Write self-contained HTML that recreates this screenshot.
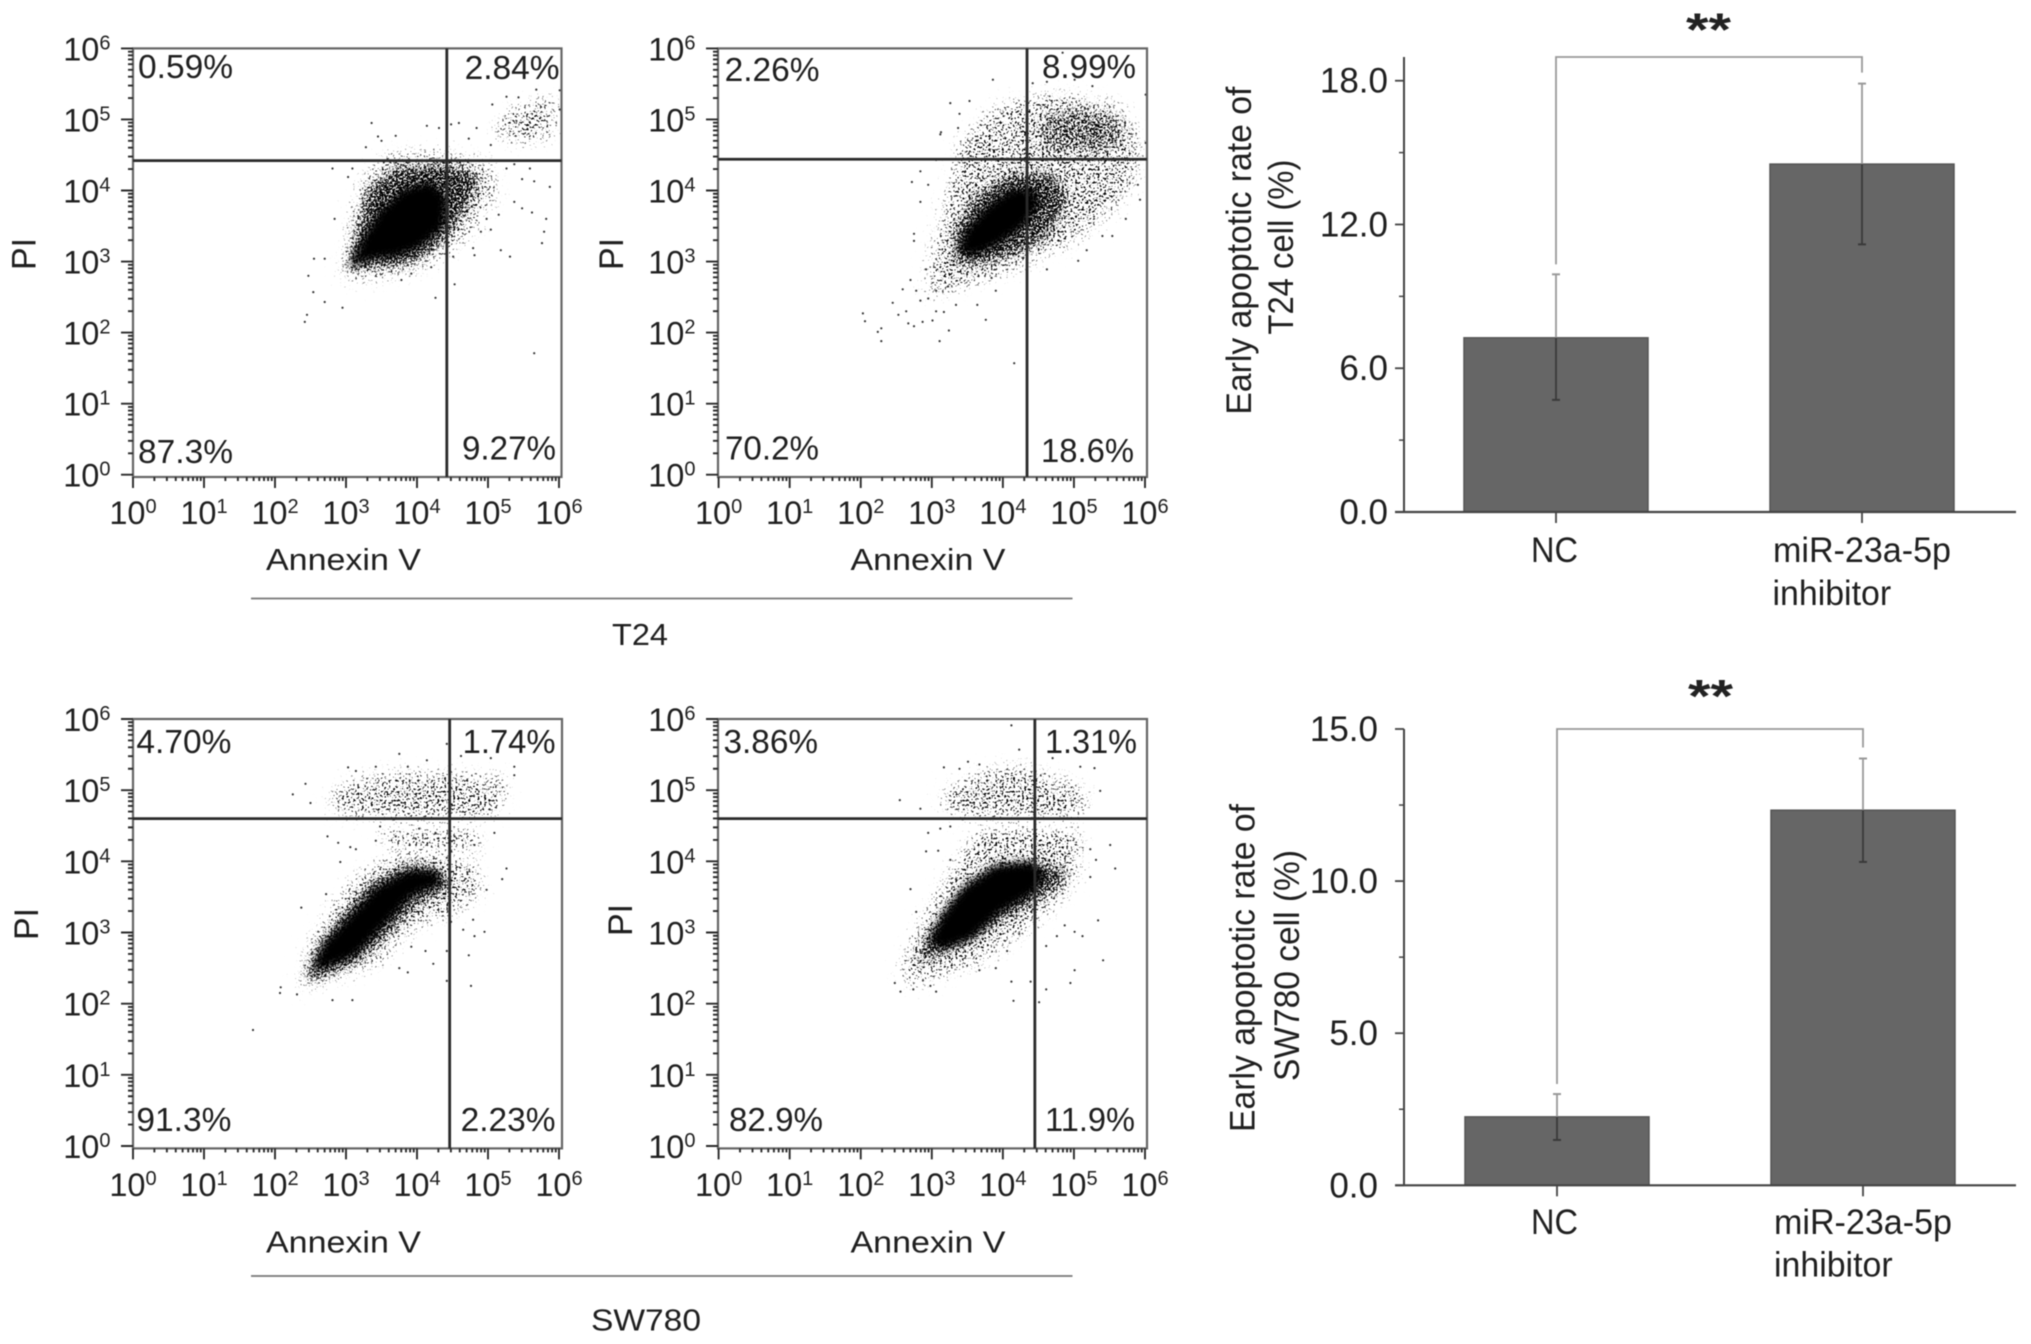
<!DOCTYPE html>
<html lang="en">
<head>
<meta charset="utf-8">
<title>Early apoptosis flow cytometry and bar charts</title>
<style>
html,body{margin:0;padding:0;background:#fff;}
#figure{display:block;width:2031px;height:1344px;filter:blur(0.55px);}
text{font-family:"Liberation Sans",sans-serif;fill:#1f1f1f;}
.q{font-size:33px;}
.t{font-size:31px;}
.pi{font-size:34px;}
.b{font-size:35px;}
.s{font-size:46px;font-weight:bold;fill:#222;}
</style>
</head>
<body>
<svg id="figure" xmlns="http://www.w3.org/2000/svg" width="2031" height="1344" viewBox="0 0 2031 1344">
<defs>
<filter id="speckle-mid" filterUnits="userSpaceOnUse" x="0" y="0" width="2031" height="1344" color-interpolation-filters="sRGB">
<feGaussianBlur in="SourceAlpha" stdDeviation="7" result="shape"/>
<feTurbulence type="fractalNoise" baseFrequency="0.55" numOctaves="2" seed="4" result="n"/>
<feColorMatrix in="n" type="matrix" values="0 0 0 0 0 0 0 0 0 0 0 0 0 0 0 1 0 0 0 0" result="na"/>
<feComposite in="na" in2="shape" operator="arithmetic" k1="0" k2="1" k3="0.37" k4="0" result="sum"/>
<feComponentTransfer in="sum" result="dots"><feFuncA type="linear" slope="14" intercept="-11.2"/></feComponentTransfer>
<feComposite in="dots" in2="shape" operator="in"/>
</filter>
<filter id="speckle-loose" filterUnits="userSpaceOnUse" x="0" y="0" width="2031" height="1344" color-interpolation-filters="sRGB">
<feGaussianBlur in="SourceAlpha" stdDeviation="9" result="shape"/>
<feTurbulence type="fractalNoise" baseFrequency="0.5" numOctaves="2" seed="7" result="n"/>
<feColorMatrix in="n" type="matrix" values="0 0 0 0 0 0 0 0 0 0 0 0 0 0 0 1 0 0 0 0" result="na"/>
<feComposite in="na" in2="shape" operator="arithmetic" k1="0" k2="1" k3="0.29" k4="0" result="sum"/>
<feComponentTransfer in="sum" result="dots"><feFuncA type="linear" slope="14" intercept="-11.2"/></feComponentTransfer>
<feComposite in="dots" in2="shape" operator="in"/>
</filter>
<filter id="speckle-sparse" filterUnits="userSpaceOnUse" x="0" y="0" width="2031" height="1344" color-interpolation-filters="sRGB">
<feGaussianBlur in="SourceAlpha" stdDeviation="9" result="shape"/>
<feTurbulence type="fractalNoise" baseFrequency="0.45" numOctaves="2" seed="11" result="n"/>
<feColorMatrix in="n" type="matrix" values="0 0 0 0 0 0 0 0 0 0 0 0 0 0 0 1 0 0 0 0" result="na"/>
<feComposite in="na" in2="shape" operator="arithmetic" k1="0" k2="1" k3="0.23" k4="0" result="sum"/>
<feComponentTransfer in="sum" result="dots"><feFuncA type="linear" slope="14" intercept="-11.2"/></feComponentTransfer>
<feComposite in="dots" in2="shape" operator="in"/>
</filter>
<filter id="soft-core" filterUnits="userSpaceOnUse" x="0" y="0" width="2031" height="1344">
<feGaussianBlur stdDeviation="4"/>
</filter>
</defs>

<g id="chart-layer"></g>

<!-- Panel A -->
<text class="q" x="138" y="78" textLength="95" lengthAdjust="spacingAndGlyphs">0.59%</text>
<text class="q" x="464.6" y="79" textLength="95" lengthAdjust="spacingAndGlyphs">2.84%</text>
<text class="q" x="138" y="463" textLength="95" lengthAdjust="spacingAndGlyphs">87.3%</text>
<text class="q" x="462" y="459.6" textLength="94" lengthAdjust="spacingAndGlyphs">9.27%</text>
<text class="t" x="266" y="570" textLength="155" lengthAdjust="spacingAndGlyphs">Annexin V</text>
<text class="pi" transform="translate(35.6 270) rotate(-90)">PI</text>

<!-- Panel B -->
<text class="q" x="724.6" y="81" textLength="95" lengthAdjust="spacingAndGlyphs">2.26%</text>
<text class="q" x="1042" y="78" textLength="94" lengthAdjust="spacingAndGlyphs">8.99%</text>
<text class="q" x="725" y="459.6" textLength="94" lengthAdjust="spacingAndGlyphs">70.2%</text>
<text class="q" x="1041" y="462" textLength="93" lengthAdjust="spacingAndGlyphs">18.6%</text>
<text class="t" x="850.5" y="570" textLength="155" lengthAdjust="spacingAndGlyphs">Annexin V</text>
<text class="pi" transform="translate(623 270) rotate(-90)">PI</text>

<!-- Panel C -->
<text class="q" x="136.4" y="753" textLength="95" lengthAdjust="spacingAndGlyphs">4.70%</text>
<text class="q" x="462.6" y="753" textLength="93" lengthAdjust="spacingAndGlyphs">1.74%</text>
<text class="q" x="136.4" y="1131" textLength="95" lengthAdjust="spacingAndGlyphs">91.3%</text>
<text class="q" x="460.6" y="1131" textLength="95" lengthAdjust="spacingAndGlyphs">2.23%</text>
<text class="t" x="266" y="1252.6" textLength="155" lengthAdjust="spacingAndGlyphs">Annexin V</text>
<text class="pi" transform="translate(38 940) rotate(-90)">PI</text>

<!-- Panel D -->
<text class="q" x="723.5" y="753" textLength="94.5" lengthAdjust="spacingAndGlyphs">3.86%</text>
<text class="q" x="1045" y="753" textLength="92" lengthAdjust="spacingAndGlyphs">1.31%</text>
<text class="q" x="729" y="1131" textLength="94" lengthAdjust="spacingAndGlyphs">82.9%</text>
<text class="q" x="1045" y="1131" textLength="90" lengthAdjust="spacingAndGlyphs">11.9%</text>
<text class="t" x="850.5" y="1252.6" textLength="155" lengthAdjust="spacingAndGlyphs">Annexin V</text>
<text class="pi" transform="translate(632 936) rotate(-90)">PI</text>

<!-- Group separators and labels -->
<line x1="251" y1="598.5" x2="1072.5" y2="598.5" stroke="#777" stroke-width="1.8"/>
<text class="t" x="612" y="645" textLength="56" lengthAdjust="spacingAndGlyphs">T24</text>
<line x1="251" y1="1276" x2="1072.5" y2="1276" stroke="#777" stroke-width="1.8"/>
<text class="t" x="591" y="1330.5" textLength="110" lengthAdjust="spacingAndGlyphs">SW780</text>

<!-- Bar chart text -->
<text class="b" transform="translate(1251 414.6) rotate(-90)" textLength="328" lengthAdjust="spacingAndGlyphs">Early apoptotic rate of</text>
<text class="b" transform="translate(1293 334.6) rotate(-90)" textLength="175" lengthAdjust="spacingAndGlyphs">T24 cell (%)</text>
<text class="b" x="1531" y="562" textLength="47" lengthAdjust="spacingAndGlyphs">NC</text>
<text class="b" x="1773" y="562" textLength="178" lengthAdjust="spacingAndGlyphs">miR-23a-5p</text>
<text class="b" x="1772.5" y="605" textLength="118.6" lengthAdjust="spacingAndGlyphs">inhibitor</text>
<text class="s" x="1686" y="45.5" textLength="45" lengthAdjust="spacingAndGlyphs">**</text>

<text class="b" transform="translate(1254.5 1132) rotate(-90)" textLength="328" lengthAdjust="spacingAndGlyphs">Early apoptotic rate of</text>
<text class="b" transform="translate(1299 1081) rotate(-90)" textLength="231" lengthAdjust="spacingAndGlyphs">SW780 cell (%)</text>
<text class="b" x="1531" y="1234" textLength="47" lengthAdjust="spacingAndGlyphs">NC</text>
<text class="b" x="1774" y="1234" textLength="178" lengthAdjust="spacingAndGlyphs">miR-23a-5p</text>
<text class="b" x="1774" y="1276.5" textLength="118.6" lengthAdjust="spacingAndGlyphs">inhibitor</text>
<text class="s" x="1688" y="712" textLength="45" lengthAdjust="spacingAndGlyphs">**</text>
</svg>

<script>
// ----- Flow cytometry data, in log10 decades (flat x,y pairs) -----
const decadeExponents = [0, 1, 2, 3, 4, 5, 6];

const gatesA = [4.42, 4.42];
const gatesB = [4.34, 4.44];
const gatesC = [4.46, 4.60];
const gatesD = [4.45, 4.60];

// Density envelopes of the populations that are too crowded to resolve as single events
const coreA = [3.06,2.92, 3.25,3.36, 3.48,3.72, 3.81,4.02, 4.20,4.13, 4.42,3.90, 4.37,3.48, 4.03,3.19, 3.70,3.07, 3.36,3.04];
const midA = [[2.92,2.83, 3.09,3.48, 3.25,4.08, 3.70,4.40, 4.42,4.43, 4.92,4.31, 4.92,4.02, 4.65,3.55, 4.37,3.19, 3.92,2.89, 3.42,2.86]];
const looseA = [];
const sparseA = [[2.86,2.77, 2.97,3.36, 3.14,4.13, 3.48,4.55, 4.42,4.61, 5.09,4.43, 5.20,3.96, 4.81,3.36, 4.42,3.01, 3.81,2.77, 3.25,2.65],
                 [5.04,4.96, 5.37,5.26, 6.01,5.38, 6.01,4.73, 5.54,4.61, 5.09,4.67]];

const coreB = [3.37,3.19, 3.51,3.48, 3.78,3.78, 4.12,4.02, 4.45,4.02, 4.51,3.78, 4.28,3.48, 3.90,3.22, 3.56,3.07];
const midB = [[3.23,3.01, 3.28,3.54, 3.62,4.02, 4.12,4.31, 4.73,4.31, 5.01,3.90, 4.73,3.36, 4.28,3.07, 3.67,2.89, 3.34,2.89]];
const looseB = [[4.40,4.73, 4.51,5.14, 5.18,5.26, 5.79,5.02, 5.84,4.67, 5.29,4.43, 4.56,4.49]];
const sparseB = [[2.89,2.89, 3.12,3.84, 3.34,4.73, 3.90,5.26, 4.73,5.44, 5.68,5.26, 5.98,4.79, 5.95,4.08, 5.45,3.54, 4.90,3.13, 4.17,2.83, 3.34,2.54, 2.89,2.42]];

const coreC = [2.53,2.50, 2.70,2.86, 3.03,3.21, 3.42,3.63, 3.87,3.87, 4.26,3.87, 4.37,3.69, 3.92,3.51, 3.59,3.15, 3.14,2.68, 2.70,2.50];
const midC = [[2.36,2.38, 2.53,2.80, 2.92,3.33, 3.31,3.75, 3.92,4.05, 4.42,3.93, 4.53,3.57, 4.03,3.33, 3.70,2.98, 3.25,2.56, 2.75,2.32, 2.42,2.26]];
const looseC = [];
const sparseC = [[2.28,2.20, 2.42,2.86, 2.81,3.45, 3.14,3.87, 3.70,4.17, 4.42,4.17, 4.92,3.99, 4.98,3.51, 4.53,3.21, 3.98,3.04, 3.48,2.50, 2.92,2.32, 2.36,2.11],
                 [2.70,4.64, 2.75,5.06, 3.48,5.30, 4.42,5.30, 5.31,5.24, 5.31,4.76, 4.98,4.52, 3.70,4.52, 2.92,4.61],
                 [3.40,4.50, 4.95,4.50, 4.95,4.10, 3.55,4.10]];

const coreD = [2.95,2.86, 3.17,3.27, 3.45,3.63, 3.90,3.93, 4.40,3.99, 4.62,3.81, 4.45,3.57, 3.95,3.27, 3.56,2.92, 3.17,2.77];
const midD = [[2.78,2.74, 2.89,3.04, 3.17,3.39, 3.51,3.81, 3.95,4.05, 4.56,4.05, 5.01,3.87, 4.90,3.63, 4.40,3.33, 3.90,3.04, 3.45,2.74, 3.00,2.56, 2.73,2.50]];
const looseD = [];
const sparseD = [[2.53,2.50, 2.62,2.86, 2.95,3.45, 3.23,3.93, 3.62,4.52, 5.18,4.52, 5.15,3.99, 5.01,3.57, 4.40,2.98, 3.67,2.50, 2.78,2.20, 2.50,2.26],
                 [3.00,4.97, 3.34,5.15, 3.90,5.39, 4.45,5.36, 5.23,5.06, 5.23,4.58, 4.45,4.52, 3.23,4.58]];

// Individually visible outlying events
const eventsA = [3.36,4.95, 3.28,4.61, 3.45,4.76, 3.50,4.70, 3.70,4.77, 4.14,4.91, 4.31,4.88, 4.42,4.79, 4.59,4.95, 4.48,4.93, 4.73,4.73, 4.84,4.88, 5.65,1.71, 2.45,2.25, 2.42,2.15, 2.70,2.43, 2.95,2.35, 2.47,2.80, 2.54,2.57, 2.55,3.04, 2.70,3.04, 2.84,3.60, 2.81,4.31, 3.09,4.31, 3.03,4.19, 4.26,2.49, 4.53,2.68, 3.78,2.74, 3.92,2.83, 4.20,2.92, 4.51,3.07, 4.79,3.19, 4.81,3.09, 5.18,3.16, 5.31,3.07, 5.76,3.26, 5.79,3.42, 5.82,3.60, 5.62,3.69, 5.48,3.75, 5.87,4.05, 5.65,4.13, 5.48,4.16, 5.37,3.84, 5.15,3.66, 4.98,3.60, 4.90,3.42, 5.04,3.45, 5.59,4.31, 5.26,4.31, 5.37,4.37, 5.04,4.64, 5.26,5.32, 5.68,5.42, 5.06,5.21, 5.43,5.31, 6.01,5.41, 6.01,5.14];
const eventsB = [2.03,2.27, 2.06,2.16, 2.29,2.06, 2.24,2.01, 2.29,1.88, 2.45,2.42, 2.59,2.61, 2.53,2.25, 2.64,2.30, 2.67,2.13, 2.75,2.09, 2.87,2.15, 3.01,2.17, 3.11,1.88, 3.24,2.03, 3.06,2.30, 3.17,2.29, 3.34,2.39, 3.64,2.39, 3.76,2.18, 4.16,1.57, 3.90,2.59, 3.84,2.77, 2.70,2.74, 2.78,2.59, 2.95,2.48, 2.84,2.45, 2.92,2.89, 3.06,2.59, 3.23,2.65, 2.75,3.39, 2.75,3.29, 2.84,3.84, 2.72,4.12, 2.84,4.27, 2.95,4.08, 3.06,4.43, 3.13,4.82, 3.26,5.23, 3.53,5.26, 3.86,5.56, 4.62,2.89, 5.06,3.01, 5.18,3.16, 5.40,3.36, 5.54,3.36, 5.73,3.60, 5.93,3.87, 5.90,4.08, 6.01,4.67, 6.01,5.35, 5.01,5.56, 5.26,5.47, 4.84,5.94, 4.42,5.51, 4.62,5.53, 3.39,5.08, 3.37,4.88, 3.12,4.79];
const eventsC = [1.69,1.63, 2.07,2.15, 2.08,2.23, 2.31,2.13, 2.81,2.05, 3.09,2.05, 2.37,3.35, 2.25,4.94, 2.43,5.09, 2.50,4.82, 2.74,4.35, 2.89,4.26, 3.06,4.20, 2.92,3.99, 2.72,3.54, 3.03,5.32, 3.14,5.27, 3.42,5.33, 3.75,5.51, 3.87,5.33, 4.14,5.42, 4.42,5.65, 4.62,5.48, 5.04,5.45, 5.37,5.33, 5.37,5.21, 5.26,3.90, 5.20,3.75, 4.98,3.60, 4.95,3.01, 4.81,2.95, 4.73,2.68, 4.76,2.25, 4.42,2.32, 4.23,2.56, 4.12,2.74, 3.92,2.80, 3.87,2.44, 3.75,2.50, 4.42,2.74, 4.48,3.15, 4.65,3.04, 4.79,3.18, 3.14,4.17, 3.42,4.29, 3.70,4.35, 3.98,4.32, 4.26,4.40, 4.53,4.35, 4.81,4.23, 5.09,4.40, 4.03,4.46, 3.48,4.49, 4.42,4.05];
const eventsD = [4.12,5.91, 4.23,5.57, 4.70,5.45, 5.29,5.31, 5.09,5.33, 3.17,5.32, 3.39,5.30, 3.51,5.40, 3.67,5.36, 2.55,4.86, 2.84,4.74, 5.37,4.99, 5.51,4.23, 5.58,3.90, 5.34,3.17, 5.41,2.61, 5.12,2.95, 5.01,3.01, 4.87,3.10, 4.76,2.95, 5.01,2.47, 4.95,2.29, 4.61,2.20, 4.51,2.02, 4.15,2.04, 4.12,2.31, 4.39,2.31, 3.90,2.50, 3.67,2.47, 3.06,2.17, 2.98,2.25, 2.74,2.20, 2.48,2.29, 2.56,2.17, 2.70,3.61, 2.78,3.29, 2.92,4.14, 3.09,4.15, 2.95,4.40, 3.12,4.46, 3.26,4.49, 3.26,4.02, 3.34,3.75, 4.61,2.81, 4.23,2.98, 4.06,2.74, 4.45,2.68, 5.23,3.78, 5.31,4.02, 5.23,4.17];

// ----- Bar chart data -----
const barCategories = ['NC', 'miR-23a-5p inhibitor'];
const t24Values = [7.27, 14.52];
const t24ErrHigh = [9.92, 17.88];
const t24ErrLow = [4.68, 11.17];
const t24TickLabels = ['0.0', '6.0', '12.0', '18.0'];
const t24TickValues = [0, 6, 12, 18];
const t24MinorTicks = [3, 9, 15];

const sw780Values = [2.25, 12.33];
const sw780ErrHigh = [3.0, 14.03];
const sw780ErrLow = [1.49, 10.63];
const sw780TickLabels = ['0.0', '5.0', '10.0', '15.0'];
const sw780TickValues = [0, 5, 10, 15];
const sw780MinorTicks = [2.5, 7.5, 12.5];

// ----- Drawing -----
const NS = 'http://www.w3.org/2000/svg';
const layer = document.getElementById('chart-layer');

function mk(tag, attrs, parent) {
  const el = document.createElementNS(NS, tag);
  for (const k in attrs) el.setAttribute(k, attrs[k]);
  parent.appendChild(el);
  return el;
}

function drawFlowPlot(id, frame, gates, core, mids, looses, sparses, events) {
  const sx = v => frame.x0 + v * (frame.x6 - frame.x0) / 6;
  const sy = v => frame.y0 - v * (frame.y0 - frame.y6) / 6;
  const toPoints = flat => {
    const out = [];
    for (let i = 0; i < flat.length; i += 2) out.push(sx(flat[i]).toFixed(1) + ',' + sy(flat[i + 1]).toFixed(1));
    return out.join(' ');
  };

  const g = mk('g', {}, layer);
  
  

  const clipId = id + '-clip';
  const clip = mk('clipPath', { id: clipId }, g);
  mk('rect', { x: frame.left, y: frame.top, width: frame.right - frame.left, height: frame.bottom - frame.top }, clip);
  const cloud = mk('g', { 'clip-path': 'url(#' + clipId + ')' }, g);
  
  

  sparses.forEach(poly => {
    const p = mk('polygon', { points: toPoints(poly), fill: '#000', filter: 'url(#speckle-sparse)' }, cloud);
    
    
  });
  looses.forEach(poly => {
    const p = mk('polygon', { points: toPoints(poly), fill: '#000', filter: 'url(#speckle-loose)' }, cloud);
    
    
  });
  mids.forEach(poly => {
    const p = mk('polygon', { points: toPoints(poly), fill: '#000', filter: 'url(#speckle-mid)' }, cloud);
    
    
  });
  const c = mk('polygon', { points: toPoints(core), fill: '#000', filter: 'url(#soft-core)' }, cloud);
  
  

  for (let i = 0; i < events.length; i += 2) {
    const d = mk('circle', { cx: sx(events[i]).toFixed(1), cy: sy(events[i + 1]).toFixed(1), r: 1.1, fill: '#333' }, g);
    
    
  }

  const border = mk('rect', { x: frame.left, y: frame.top, width: frame.right - frame.left, height: frame.bottom - frame.top, fill: 'none', stroke: '#666', 'stroke-width': 2.2 }, g);
  
  

  const gv = mk('line', { x1: sx(gates[0]), x2: sx(gates[0]), y1: frame.top, y2: frame.bottom, stroke: '#2a2a2a', 'stroke-width': 2.8 }, g);
  
  
  const gh = mk('line', { x1: frame.left, x2: frame.right, y1: sy(gates[1]), y2: sy(gates[1]), stroke: '#2a2a2a', 'stroke-width': 2.8 }, g);
  
  

  // log axes
  const tickPath = [];
  decadeExponents.forEach(d => {
    tickPath.push('M' + (frame.left - 12) + ' ' + sy(d) + 'H' + frame.left);
    tickPath.push('M' + sx(d) + ' ' + frame.bottom + 'v11');
    if (d < 6) {
      for (let k = 2; k < 10; k++) {
        const v = d + Math.log10(k);
        tickPath.push('M' + (frame.left - 5) + ' ' + sy(v) + 'H' + frame.left);
        tickPath.push('M' + sx(v) + ' ' + frame.bottom + 'v4');
      }
    }
  });
  const ticks = mk('path', { d: tickPath.join(''), stroke: '#2a2a2a', 'stroke-width': 1.9, fill: 'none' }, g);
  
  

  decadeExponents.forEach(d => {
    const ty = mk('text', { x: frame.left - 22.5, y: sy(d) + 12, 'text-anchor': 'end', 'font-size': 32.5 }, g);
    
    
    ty.appendChild(document.createTextNode('10'));
    const sup1 = mk('tspan', { dy: -11, 'font-size': 20 }, ty);
    sup1.textContent = String(d);

    const tx = mk('text', { x: sx(d), y: frame.labelY, 'text-anchor': 'middle', 'font-size': 32.5 }, g);
    
    
    tx.appendChild(document.createTextNode('10'));
    const sup2 = mk('tspan', { dy: -11, 'font-size': 20 }, tx);
    sup2.textContent = String(d);
  });
}

function drawBars(id, cfg, values, errHigh, errLow, tickValues, tickLabels, minorTicks) {
  const sy = v => cfg.y0 - v * cfg.unit;
  const g = mk('g', {}, layer);
  
  

  values.forEach((v, i) => {
    const cx = cfg.centers[i];
    const bar = mk('rect', { x: cx - cfg.half, y: sy(v), width: cfg.half * 2, height: cfg.y0 - sy(v), fill: '#666', stroke: '#555', 'stroke-width': 1.5 }, g);
    
    

    const upper = mk('line', { x1: cx, x2: cx, y1: sy(errHigh[i]), y2: sy(v), stroke: '#999', 'stroke-width': 1.8 }, g);
    
    
    const lower = mk('line', { x1: cx, x2: cx, y1: sy(v), y2: sy(errLow[i]), stroke: '#3a3a3a', 'stroke-width': 1.8 }, g);
    
    
    const capHi = mk('line', { x1: cx - 4, x2: cx + 4, y1: sy(errHigh[i]), y2: sy(errHigh[i]), stroke: '#999', 'stroke-width': 2 }, g);
    
    
    const capLo = mk('line', { x1: cx - 4, x2: cx + 4, y1: sy(errLow[i]), y2: sy(errLow[i]), stroke: '#3a3a3a', 'stroke-width': 2 }, g);
    
    

    const xt = mk('line', { x1: cx, x2: cx, y1: cfg.y0, y2: cfg.y0 + 11, stroke: '#444', 'stroke-width': 1.8 }, g);
    
    
  });

  const bracket = mk('path', {
    d: 'M' + cfg.centers[0] + ' ' + (sy(errHigh[0]) - 10) + 'V' + cfg.axisTop + 'H' + cfg.centers[1] + 'V' + (sy(errHigh[1]) - 11),
    fill: 'none', stroke: '#999', 'stroke-width': 1.8
  }, g);
  
  

  const yAxis = mk('line', { x1: cfg.axisX, x2: cfg.axisX, y1: cfg.axisTop, y2: cfg.y0, stroke: '#444', 'stroke-width': 2 }, g);
  
  
  const xAxis = mk('line', { x1: cfg.axisX - 9, x2: 2016, y1: cfg.y0, y2: cfg.y0, stroke: '#444', 'stroke-width': 2.2 }, g);
  
  

  tickValues.forEach((v, i) => {
    const t = mk('line', { x1: cfg.axisX - 9, x2: cfg.axisX, y1: sy(v), y2: sy(v), stroke: '#444', 'stroke-width': 1.8 }, g);
    
    
    const lab = mk('text', { x: cfg.labelRight, y: sy(v) + 12, 'text-anchor': 'end', 'font-size': 35 }, g);
    
    
    lab.textContent = tickLabels[i];
  });
  minorTicks.forEach(v => {
    const t = mk('line', { x1: cfg.axisX - 5, x2: cfg.axisX, y1: sy(v), y2: sy(v), stroke: '#444', 'stroke-width': 1.5 }, g);
    
    
  });
}

drawFlowPlot('t24-nc', { x0: 133, x6: 559, y0: 474.7, y6: 48.4, left: 133, right: 561.5, top: 48.4, bottom: 477, labelY: 524 }, gatesA, coreA, midA, looseA, sparseA, eventsA);
drawFlowPlot('t24-inhibitor', { x0: 718.6, x6: 1145, y0: 474.7, y6: 48.4, left: 718, right: 1147, top: 48.4, bottom: 477, labelY: 524 }, gatesB, coreB, midB, looseB, sparseB, eventsB);
drawFlowPlot('sw780-nc', { x0: 133, x6: 559, y0: 1146, y6: 719, left: 133, right: 562, top: 719, bottom: 1148.4, labelY: 1196 }, gatesC, coreC, midC, looseC, sparseC, eventsC);
drawFlowPlot('sw780-inhibitor', { x0: 718.6, x6: 1145, y0: 1146, y6: 719, left: 718, right: 1147, top: 719, bottom: 1148.4, labelY: 1196 }, gatesD, coreD, midD, looseD, sparseD, eventsD);

drawBars('t24', { axisX: 1404, axisTop: 57, y0: 512, unit: 23.96, centers: [1556, 1862], half: 92, labelRight: 1388 }, t24Values, t24ErrHigh, t24ErrLow, t24TickValues, t24TickLabels, t24MinorTicks);
drawBars('sw780', { axisX: 1404, axisTop: 729, y0: 1185.3, unit: 30.42, centers: [1557, 1863], half: 92, labelRight: 1378 }, sw780Values, sw780ErrHigh, sw780ErrLow, sw780TickValues, sw780TickLabels, sw780MinorTicks);
</script>
</body>
</html>
